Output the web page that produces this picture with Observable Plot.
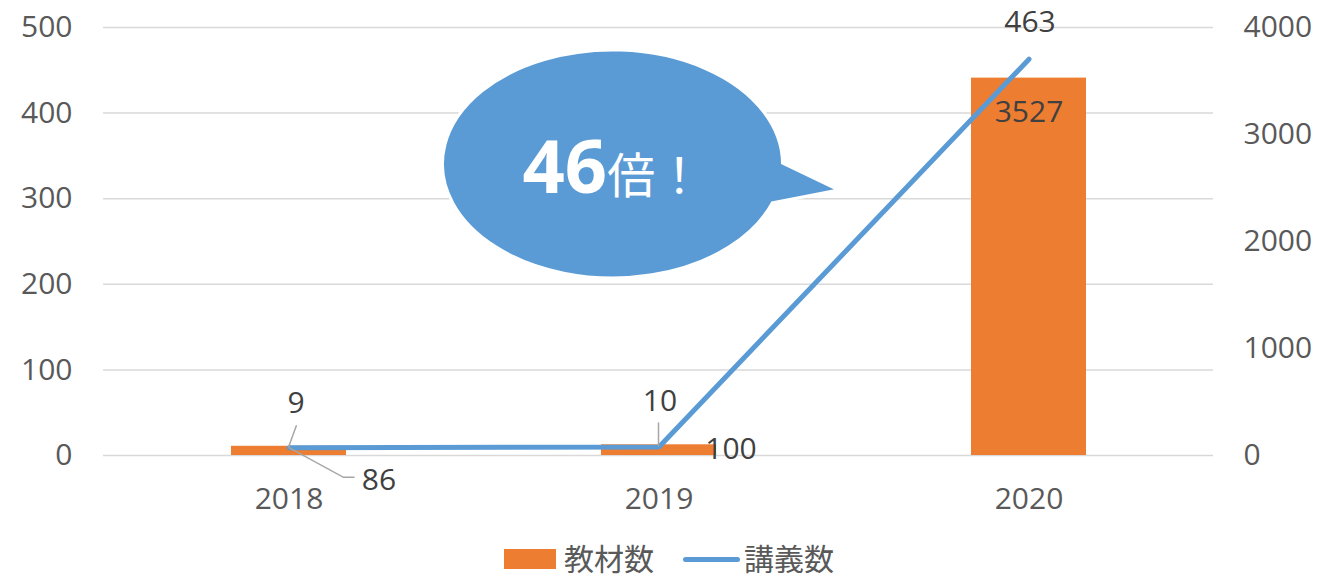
<!DOCTYPE html>
<html><head><meta charset="utf-8">
<script src="https://cdn.jsdelivr.net/npm/d3@7"></script>
<script src="https://cdn.jsdelivr.net/npm/@observablehq/plot@0.6"></script>
<style>
body{margin:0;background:#fff;}
#chart{position:relative;width:1318px;height:579px;}
#chart svg{display:block;}
.legend{position:absolute;left:504px;top:541px;height:32px;line-height:32px;display:flex;align-items:center;font-size:30px;color:#595959;font-family:"Noto Sans CJK JP",sans-serif;}
.legend span{line-height:32px;}
.sw-bar{width:52px;height:20px;background:#ED7D31;margin-right:8px;margin-top:4px;}
.sw-line{width:57px;height:5px;border-radius:3px;background:#5B9BD5;margin-left:29px;margin-right:4px;margin-top:4px;}
</style></head><body>
<div id="chart"></div>
<script>
const years = ["2018", "2019", "2020"];
const materials = [86, 100, 3527];   // 教材数 (bars, right axis)
const lectures = [9, 10, 463];       // 講義数 (line, left axis)
const leftTicks = [0, 100, 200, 300, 400, 500];
const rightTicks = [0, 1000, 2000, 3000, 4000];
const seriesNames = ["教材数", "講義数"];
const calloutNumber = "46";
const calloutSuffix = "倍！";
const ratio = 4000 / 500;

const data = years.map((y, i) => ({year: y, materials: materials[i], lectures: lectures[i]}));
const ORANGE = "#ED7D31", BLUE = "#5B9BD5", TXT = "#404040", AX = "#595959";
const FONT = '"Open Sans", "Noto Sans CJK JP", sans-serif';

const lbl = (i, key, text, dx, dy) => Plot.text([data[i]], {
  x: "year", y: d => key === "m" ? d.materials / ratio : d.lectures,
  text: () => text, dx, dy, fontSize: 30, fill: TXT, fontFamily: FONT
});

const chart = Plot.plot({
  width: 1318, height: 540,
  marginLeft: 103, marginRight: 105, marginTop: 27, marginBottom: 85,
  style: {fontFamily: FONT, background: "white", color: AX},
  x: {domain: years, paddingInner: 0.69, paddingOuter: 0.345, align: 0.5, label: null},
  y: {domain: [0, 500], label: null},
  marks: [
    Plot.gridY(leftTicks, {stroke: "#d9d9d9", strokeOpacity: 1, strokeWidth: 1.5}),
    Plot.axisY(leftTicks, {anchor: "left", tickSize: 0, tickPadding: 31, label: null, fontSize: 30, fill: AX}),
    Plot.axisY(rightTicks.map(v => v / ratio), {anchor: "right", tickSize: 0, tickPadding: 30, label: null, fontSize: 30, fill: AX, tickFormat: d => String(Math.round(d * ratio))}),
    Plot.axisX({tickSize: 0, tickPadding: 32, label: null, fontSize: 30, fill: AX}),
    Plot.barY(data, {x: "year", y: d => d.materials / ratio, fill: ORANGE}),
    Plot.line(data, {x: "year", y: "lectures", stroke: BLUE, strokeWidth: 5, strokeLinecap: "round", strokeLinejoin: "round"}),
    lbl(0, "l", String(lectures[0]), 7, -44),
    lbl(1, "l", String(lectures[1]), 1, -46),
    lbl(2, "l", String(lectures[2]), 1, -37),
    lbl(0, "m", String(materials[0]), 90, 34),
    lbl(1, "m", String(materials[1]), 72, 5),
    lbl(2, "m", String(materials[2]), 0, 34)
  ]
});

const root = document.getElementById("chart");
root.appendChild(chart);

const xs = chart.scale("x"), ys = chart.scale("y");
const xc = k => xs.apply(k) + xs.bandwidth / 2;
const svg = d3.select(chart);

// leader lines for data labels
const leaders = svg.append("g").attr("stroke", "#a6a6a6").attr("stroke-width", 1.5).attr("fill", "none");
const p0 = [xc("2018"), ys.apply(lectures[0])];
leaders.append("path").attr("d", `M${p0[0]},${p0[1]}L${p0[0] + 8},${p0[1] - 22}`);
leaders.append("path").attr("d", `M${p0[0]},${p0[1]}L${p0[0] + 55},${p0[1] + 30}L${p0[0] + 66},${p0[1] + 30}`);
const p1 = [xc("2019"), ys.apply(lectures[1])];
leaders.append("path").attr("d", `M${p1[0]},${p1[1]}L${p1[0]},${p1[1] - 24}`);

// callout bubble
const cx = xc("2019") - 46, cy = ys.apply(340), rx = 170, ry = 114;
const a1 = 0, a2 = 20 * Math.PI / 180;
const u = [cx + rx * Math.cos(a1), cy + ry * Math.sin(a1) - 1];
const l = [cx + rx * Math.cos(a2), cy + ry * Math.sin(a2)];
const tip = [cx + 226, cy + 26];
const g = svg.append("g");
g.append("path")
  .attr("d", `M${u[0]},${u[1]}A${rx},${ry} 0 1 0 ${l[0]},${l[1]}L${tip[0]},${tip[1]}Z`)
  .attr("fill", BLUE).attr("stroke", "white").attr("stroke-width", 3);
const t = g.append("text").attr("x", cx - 90).attr("y", cy + 29).attr("fill", "white")
  .attr("text-anchor", "start").attr("font-family", FONT);
t.append("tspan").attr("font-size", 74).attr("font-weight", "bold").text(calloutNumber);
t.append("tspan").attr("font-size", 48).attr("font-family", '"Noto Sans CJK JP", sans-serif').text(calloutSuffix);

// legend
const lg = d3.select(root).append("div").attr("class", "legend");
lg.append("div").attr("class", "sw-bar");
lg.append("span").text(seriesNames[0]);
lg.append("div").attr("class", "sw-line");
lg.append("span").text(seriesNames[1]);
</script>
</body></html>
